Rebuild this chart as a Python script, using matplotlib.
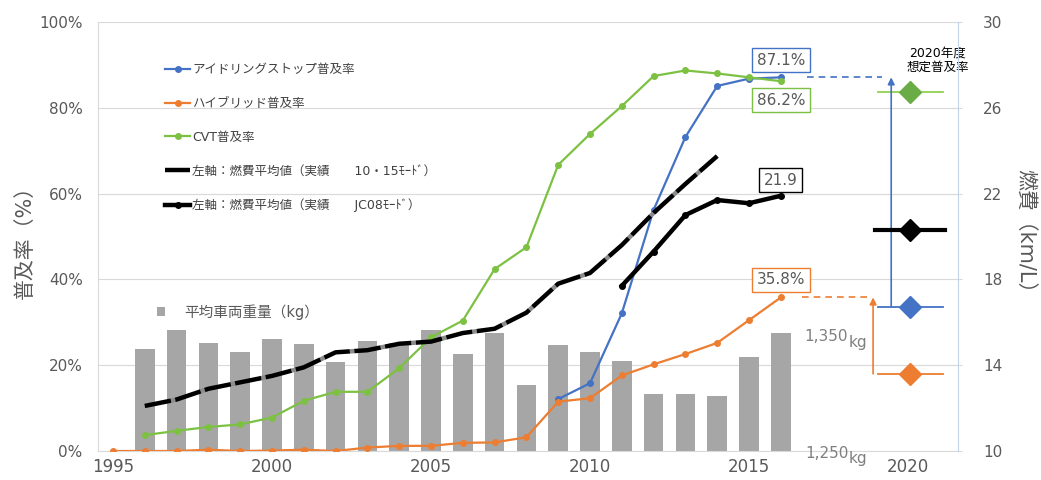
import numpy as np
import matplotlib.pyplot as plt
from matplotlib.patches import Patch
from matplotlib.transforms import blended_transform_factory

plt.rcParams['font.family'] = ['DejaVu Sans', 'Noto Sans CJK JP']

# --- data ---
years = np.arange(1995, 2017)
hybrid_rate = [0.0, 0.0, 0.0, 0.3, 0.0, 0.1, 0.3, 0.0, 0.8, 1.2, 1.2, 1.9, 2.0, 3.2,
               11.5, 12.3, 17.6, 20.2, 22.6, 25.2, 30.5, 35.8]
idle_years = np.arange(2009, 2017)
idle_rate = [12.1, 15.8, 32.1, 56.2, 73.2, 85.1, 86.8, 87.1]
cvt_years = np.arange(1996, 2017)
cvt_rate = [3.7, 4.7, 5.6, 6.2, 7.8, 11.7, 13.8, 13.8, 19.3, 26.5, 30.4, 42.4, 47.5,
            66.7, 73.9, 80.4, 87.4, 88.7, 88.0, 87.1, 86.2]
fuel_1015_years = np.arange(1996, 2015)
fuel_1015 = [12.1, 12.4, 12.9, 13.2, 13.5, 13.9, 14.6, 14.7, 15.0, 15.1, 15.5, 15.7,
             16.45, 17.8, 18.3, 19.6, 21.1, 22.45, 23.75]
fuel_jc08_years = np.arange(2011, 2017)
fuel_jc08 = [17.7, 19.3, 21.0, 21.7, 21.55, 21.9]
weight_years = np.arange(1996, 2017)
weight_kg = [1340, 1357, 1346, 1338, 1349, 1345, 1329, 1347, 1346, 1357, 1336, 1354,
             1308, 1344, 1338, 1330, 1300, 1300, 1299, 1333, 1354]
target_year = 2020
target_idle = 33.6
target_hybrid = 18.0
target_cvt = 83.7
target_fuel = 20.3

labels = ['アイドリングストップ普及率', 'ハイブリッド普及率', 'CVT普及率',
          '左軸：燃費平均値（実績　　10・15ﾓｰﾄﾞ）', '左軸：燃費平均値（実績　　JC08ﾓｰﾄﾞ）']
bar_label = '平均車両重量（kg）'

blue = '#4472c4'
orange = '#ed7d31'
green = '#7cc142'
grey_txt = '#595959'

fig = plt.figure(figsize=(10.41, 4.8), dpi=100)
ax = fig.add_axes([98 / 1041, 29 / 480, 860 / 1041, 429 / 480])
axb = ax.twinx()
axf = ax.twinx()

ax.set_xlim(1994.53, 2021.57)
ax.set_ylim(0, 100)
axb.set_ylim(1250, 1250 + 429 / 1.13)
axf.set_ylim(10, 30)
axb.axis('off')

# bars live on the percent axes (under its lines) but use the weight scale
trans = blended_transform_factory(ax.transData, axb.transData)
ax.bar(weight_years, np.array(weight_kg) - 1250, bottom=1250, width=0.62,
       color='#a6a6a6', transform=trans, zorder=1)

ax.yaxis.grid(True, color='#d9d9d9', lw=0.8)
ax.set_axisbelow(True)

l_idle, = ax.plot(idle_years, idle_rate, color=blue, marker='o', ms=4, lw=1.6, zorder=3)
l_hyb, = ax.plot(years, hybrid_rate, color=orange, marker='o', ms=4, lw=1.6, zorder=3)
l_cvt, = ax.plot(cvt_years, cvt_rate, color=green, marker='o', ms=4, lw=1.6, zorder=3)
l_1015, = axf.plot(fuel_1015_years, fuel_1015, color='black', lw=3.2,
                   linestyle=(0, (6, 1)), gapcolor='#8c8c8c', solid_capstyle='butt')
l_jc08, = axf.plot(fuel_jc08_years, fuel_jc08, color='black', lw=3.2, marker='o', ms=4)

# 2020 targets
ax.plot([2019.06, 2021.1], [target_cvt] * 2, color='#92d050', lw=1.3)
ax.plot(target_year + 0.06, target_cvt, marker='D', ms=11, color='#6aac46')
ax.plot([2019.06, 2021.1], [target_idle] * 2, color=blue, lw=1.3)
ax.plot(target_year + 0.06, target_idle, marker='D', ms=11, color=blue)
ax.plot([2019.06, 2021.1], [target_hybrid] * 2, color=orange, lw=1.3)
ax.plot(target_year + 0.06, target_hybrid, marker='D', ms=11, color=orange)
axf.plot([2018.97, 2021.16], [target_fuel] * 2, color='black', lw=3)
axf.plot(target_year + 0.06, target_fuel, marker='D', ms=11, color='black')

# arrows from latest value to target
ax.plot([2016.82, 2019.18], [idle_rate[-1]] * 2, color=blue, lw=1.2, ls=(0, (4, 3)))
ax.annotate('', xy=(2019.47, idle_rate[-1]), xytext=(2019.47, target_idle),
            arrowprops=dict(arrowstyle='-|>', color=blue, lw=1.2, mutation_scale=10,
                            shrinkA=0, shrinkB=0))
ax.plot([2016.67, 2018.8], [hybrid_rate[-1]] * 2, color=orange, lw=1.2, ls=(0, (4, 3)))
ax.annotate('', xy=(2018.9, hybrid_rate[-1]), xytext=(2018.9, target_hybrid),
            arrowprops=dict(arrowstyle='-|>', color=orange, lw=1.2, mutation_scale=10,
                            shrinkA=0, shrinkB=0))

# value boxes
box = dict(fontsize=11, color=grey_txt, ha='center', va='center', zorder=5)
ax.text(2016, 91.1, f'{idle_rate[-1]:.1f}%',
        bbox=dict(boxstyle='square,pad=0.3', fc='white', ec=blue, lw=1), **box)
ax.text(2016, 81.8, f'{cvt_rate[-1]:.1f}%',
        bbox=dict(boxstyle='square,pad=0.3', fc='white', ec=green, lw=1), **box)
ax.text(2016, 39.9, f'{hybrid_rate[-1]:.1f}%',
        bbox=dict(boxstyle='square,pad=0.3', fc='white', ec=orange, lw=1), **box)
axf.text(2016, 22.63, f'{fuel_jc08[-1]:.1f}',
         bbox=dict(boxstyle='square,pad=0.3', fc='white', ec='black', lw=1), **box)

ax.text(2020.94, 91.1, '2020年度\n想定普及率', ha='center', va='center',
        fontsize=9, color='black', linespacing=1.15)

axb.text(2018.12, 1351, '1,350', ha='right', va='center', fontsize=11, color='#7f7f7f')
axb.text(2018.12, 1346, 'kg', ha='left', va='center', fontsize=11, color='#7f7f7f')
axb.text(2018.12, 1248, '1,250', ha='right', va='center', fontsize=11, color='#7f7f7f')
axb.text(2018.12, 1243, 'kg', ha='left', va='center', fontsize=11, color='#7f7f7f')

# axes styling
ax.set_xticks([1995, 2000, 2005, 2010, 2015, 2020])
ax.set_yticks([0, 20, 40, 60, 80, 100])
ax.set_yticklabels([f'{v}%' for v in [0, 20, 40, 60, 80, 100]])
ax.tick_params(axis='x', length=0, labelsize=12, labelcolor=grey_txt, pad=5)
ax.tick_params(axis='y', length=0, labelsize=11, labelcolor=grey_txt, pad=11)
axf.set_yticks([10, 14, 18, 22, 26, 30])
axf.tick_params(axis='y', length=3, color='#d9d9d9', labelsize=11,
                labelcolor=grey_txt, pad=15)
for s in ['top', 'right']:
    ax.spines[s].set_visible(False)
ax.spines['left'].set_color('#d9d9d9')
ax.spines['bottom'].set_color('#d9d9d9')
for s in ['top', 'left', 'bottom']:
    axf.spines[s].set_visible(False)
axf.spines['right'].set_color('#c5d3ea')

ax.set_ylabel('普及率（%）', fontsize=15, color=grey_txt, labelpad=3)
axf.set_ylabel('燃費（km/L）', fontsize=15, color=grey_txt, rotation=270, labelpad=23)

leg = axf.legend([l_idle, l_hyb, l_cvt, l_1015, l_jc08], labels, loc='upper left',
                 bbox_to_anchor=(165 / 1041, 1 - 63 / 480), bbox_transform=fig.transFigure,
                 frameon=False, fontsize=9, labelspacing=1.67, handlelength=2.0,
                 handletextpad=0.2, borderpad=0, borderaxespad=0, labelcolor='#404040')
axf.add_artist(leg)
axf.legend([Patch(facecolor='#a6a6a6')], [bar_label], loc='upper left',
           bbox_to_anchor=(157 / 1041, 1 - 304 / 480), bbox_transform=fig.transFigure,
           frameon=False, fontsize=10.5, handlelength=0.55, handleheight=0.55,
           handletextpad=1.3, borderpad=0, borderaxespad=0, labelcolor='#595959')

fig.savefig('out.png', dpi=100)
